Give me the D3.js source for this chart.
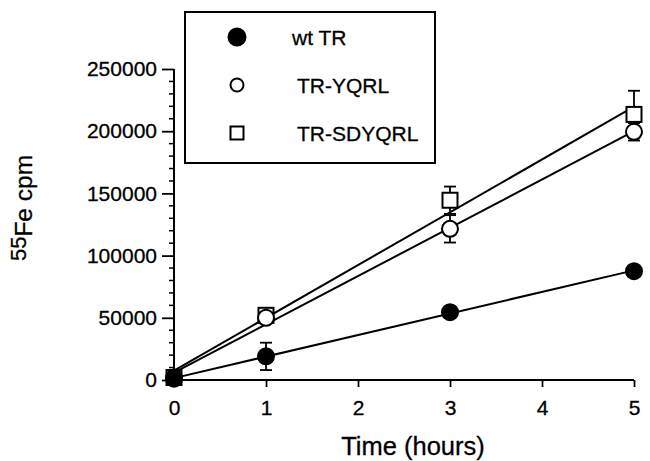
<!DOCTYPE html>
<html>
<head>
<meta charset="utf-8">
<script src="https://cdn.jsdelivr.net/npm/d3@7"></script>
<style>
  body { margin: 0; background: #fff; }
  svg { font-family: "Liberation Sans", Arial, Helvetica, sans-serif; }
</style>
</head>
<body>
<svg id="canvas" width="650" height="461"></svg>
<script>
// data
let times = [0, 1, 3, 5];
let wtTR = [1000, 19000, 54500, 87500];
let wtErr = [0, 11000, 2000, 2000];
let yqrl = [2000, 50000, 121500, 199500];
let yqrlErr = [0, 4000, 11000, 7000];
let sdyqrl = [2000, 52000, 144500, 213500];
let sdyqrlErr = [0, 4000, 11000, 19000];
let xTicks = [0, 1, 2, 3, 4, 5];
let yTicks = [0, 50000, 100000, 150000, 200000, 250000];
let seriesNames = ['wt TR', 'TR-YQRL', 'TR-SDYQRL'];

let svg = d3.select('#canvas');

let x = d3.scaleLinear().domain([0, 5]).range([174, 634]);
let y = d3.scaleLinear().domain([0, 250000]).range([380, 69]);

let series = [
  {name: seriesNames[0], vals: wtTR, err: wtErr, shape: 'fcircle'},
  {name: seriesNames[1], vals: yqrl, err: yqrlErr, shape: 'ocircle'},
  {name: seriesNames[2], vals: sdyqrl, err: sdyqrlErr, shape: 'square'}
];

// least squares line through each series
function fit(vals) {
  let mx = d3.mean(times), my = d3.mean(vals);
  let sxy = d3.sum(times, (t, i) => (t - mx) * (vals[i] - my));
  let sxx = d3.sum(times, t => (t - mx) * (t - mx));
  let b = sxy / sxx;
  return [b, my - b * mx];
}

// axes
let yAxis = svg.append('g')
  .attr('transform', 'translate(174,0)')
  .call(d3.axisLeft(y).tickValues(yTicks).tickSize(12).tickPadding(5).tickFormat(d3.format('d')));
yAxis.select('.domain').attr('d', 'M0,' + y(0) + 'V' + y(250000));

svg.append('g')
  .attr('transform', 'translate(174,0)')
  .selectAll('line')
  .data(d3.range(0, 250001, 10000).filter(v => v % 50000 !== 0))
  .enter()
  .append('line')
  .attr('x1', -5).attr('x2', 0)
  .attr('y1', d => y(d)).attr('y2', d => y(d))
  .attr('stroke', '#000').attr('stroke-width', 1.5);

let xAxis = svg.append('g')
  .attr('transform', 'translate(0,380)')
  .call(d3.axisBottom(x).tickValues(xTicks).tickSize(7).tickPadding(13).tickFormat(d3.format('d')));
xAxis.select('.domain').attr('d', 'M' + x(0) + ',0H' + x(5));

svg.selectAll('.domain').attr('stroke', '#000').attr('stroke-width', 2);
svg.selectAll('.tick line').attr('stroke', '#000').attr('stroke-width', 1.8);
svg.selectAll('.tick text').attr('font-size', 21).attr('fill', '#000')
  .attr('stroke', '#000').attr('stroke-width', 0.3)
  .attr('font-family', '"Liberation Sans", Arial, sans-serif');

// axis titles
svg.append('text')
  .attr('x', 413).attr('y', 455)
  .attr('text-anchor', 'middle')
  .attr('font-size', 25.5)
  .attr('stroke', '#000').attr('stroke-width', 0.3)
  .text('Time (hours)');

let yl = svg.append('text')
  .attr('transform', 'translate(32,208) rotate(-90)')
  .attr('text-anchor', 'middle')
  .attr('font-size', 24.5)
  .attr('stroke', '#000').attr('stroke-width', 0.3);
yl.append('tspan').attr('font-size', 22).attr('dy', -6).text('55');
yl.append('tspan').attr('dy', 6).text('Fe cpm');

// fitted lines
series.forEach(s => {
  let [b, a] = fit(s.vals);
  svg.append('line')
    .attr('x1', x(0)).attr('y1', y(a))
    .attr('x2', x(5)).attr('y2', y(a + b * 5))
    .attr('stroke', '#000').attr('stroke-width', 2);
});

// error bars
series.forEach(s => {
  let g = svg.append('g').attr('stroke', '#000').attr('stroke-width', 1.8);
  times.forEach((t, i) => {
    if (!s.err[i]) return;
    let lo = y(s.vals[i] - s.err[i]), hi = y(s.vals[i] + s.err[i]);
    g.append('line').attr('x1', x(t)).attr('x2', x(t)).attr('y1', lo).attr('y2', hi);
    g.append('line').attr('x1', x(t) - 6).attr('x2', x(t) + 6).attr('y1', lo).attr('y2', lo);
    g.append('line').attr('x1', x(t) - 6).attr('x2', x(t) + 6).attr('y1', hi).attr('y2', hi);
  });
});

function marker(g, shape, cx, cy, r) {
  if (shape === 'square') {
    g.append('rect')
      .attr('x', cx - r).attr('y', cy - r)
      .attr('width', 2 * r).attr('height', 2 * r)
      .attr('fill', '#fff').attr('stroke', '#000').attr('stroke-width', 2);
  } else {
    g.append('circle')
      .attr('cx', cx).attr('cy', cy).attr('r', r)
      .attr('fill', shape === 'fcircle' ? '#000' : '#fff')
      .attr('stroke', '#000').attr('stroke-width', 2);
  }
}

// markers: squares first, then open circles, filled on top
[series[2], series[1], series[0]].forEach(s => {
  let g = svg.append('g');
  times.forEach((t, i) => {
    marker(g, s.shape, x(t), y(s.vals[i]), s.shape === 'square' ? 7.5 : 8);
  });
});

// legend
let legend = svg.append('g');
legend.append('rect')
  .attr('x', 185).attr('y', 12)
  .attr('width', 250).attr('height', 151)
  .attr('fill', '#fff').attr('stroke', '#000').attr('stroke-width', 2);

let rows = legend.selectAll('.legend-row')
  .data(series)
  .enter()
  .append('g')
  .attr('class', 'legend-row')
  .attr('transform', (d, i) => 'translate(0,' + (37 + i * 48) + ')');

rows.each(function (d) {
  let g = d3.select(this);
  marker(g, d.shape, 237, 0, d.shape === 'fcircle' ? 8.5 : 6.5);
});

rows.append('text')
  .attr('x', (d, i) => i === 0 ? 292 : 297)
  .attr('y', 8)
  .attr('font-size', 21)
  .attr('stroke', '#000').attr('stroke-width', 0.3)
  .text(d => d.name);
</script>
</body>
</html>
